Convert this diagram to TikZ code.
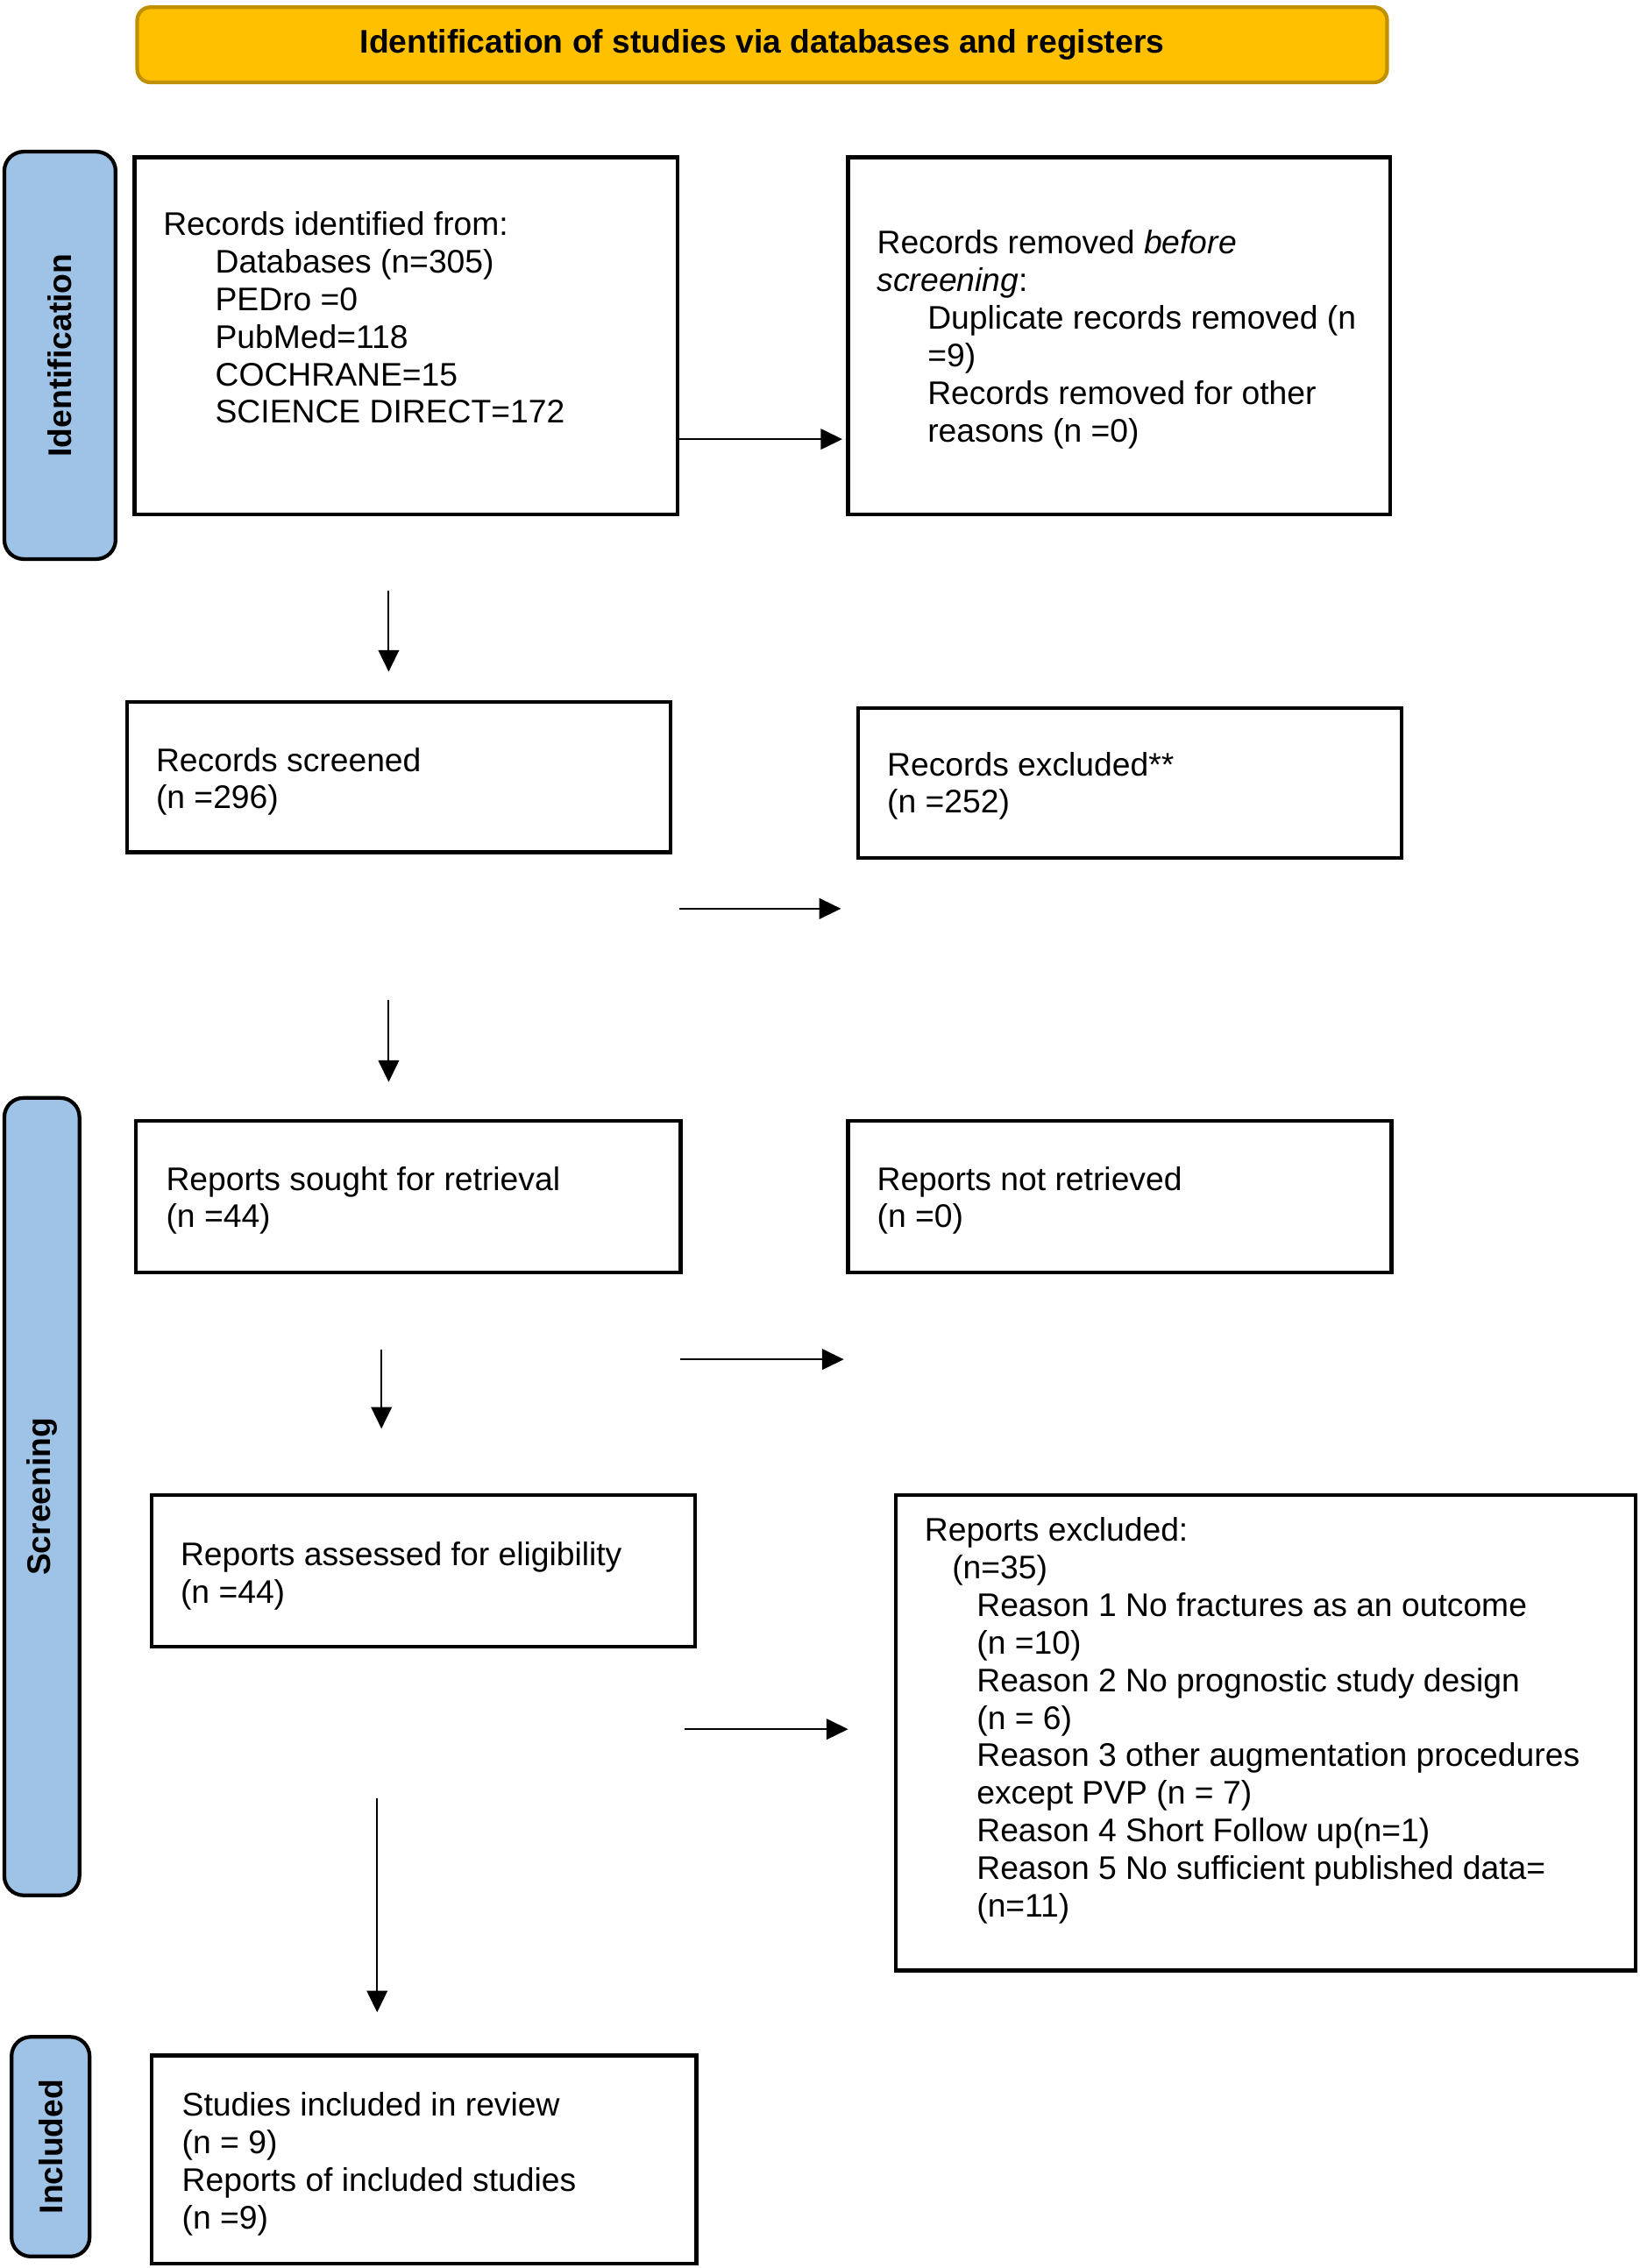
\documentclass[tikz,border=0pt]{standalone}
\usepackage{fontspec}
\setmainfont{Liberation Sans}
\usetikzlibrary{arrows.meta,calc}
\definecolor{titlefill}{HTML}{FFC000}
\definecolor{titledraw}{HTML}{BF9000}
\definecolor{sidefill}{HTML}{9FC3E6}
\begin{document}
\begin{tikzpicture}[x=0.03cm,y=-0.03cm,
  every node/.style={inner sep=0pt,outer sep=0pt},
  box/.style={draw=black,line width=2.3pt,fill=white},
  txt/.style={anchor=north west,align=left,font=\fontsize{19.3}{22.2}\selectfont},
  sidebar/.style={draw=black,line width=2.2pt,fill=sidefill,rounded corners=0.4cm},
  sidetxt/.style={rotate=90,font=\fontsize{19.3}{22.2}\selectfont\bfseries},
  arr/.style={line width=1pt,-{Triangle[length=0.45cm,width=0.43cm]}}]
\useasboundingbox (0,-2) rectangle (1135,1568);
\fill[white] (0,-2) rectangle (1135,1568);

% title
\node[draw=titledraw,line width=2.2pt,fill=titlefill,rounded corners=0.27cm,
  minimum width=865*0.03cm,minimum height=52*0.03cm,
  font=\fontsize{19.3}{22.2}\selectfont\bfseries] (title) at (527.5,29) {Identification of studies via databases and registers};

% sidebars
\node[sidebar,minimum width=77*0.03cm,minimum height=282*0.03cm] (sid) at (41.5,244) {};
\node[sidetxt] (sidt) at (sid.center) {Identification};
\node[sidebar,minimum width=52*0.03cm,minimum height=552*0.03cm] (sscr) at (29,1034) {};
\node[sidetxt] (sscrt) at (sscr.center) {Screening};
\node[sidebar,minimum width=54*0.03cm,minimum height=152*0.03cm] (sinc) at (35,1484) {};
\node[sidetxt] (sinct) at (sinc.center) {Included};

% boxes
\node[box,minimum width=376*0.03cm,minimum height=247*0.03cm] (b1) at (281,230.5) {};
\node[box,minimum width=375*0.03cm,minimum height=247*0.03cm] (b2) at (774.5,230.5) {};
\node[box,minimum width=376*0.03cm,minimum height=104*0.03cm] (b3) at (276,536) {};
\node[box,minimum width=376*0.03cm,minimum height=104*0.03cm] (b4) at (782,540) {};
\node[box,minimum width=377*0.03cm,minimum height=105*0.03cm] (b5) at (282.5,826.5) {};
\node[box,minimum width=376*0.03cm,minimum height=105*0.03cm] (b6) at (775,826.5) {};
\node[box,minimum width=376*0.03cm,minimum height=105*0.03cm] (b7) at (293,1085.5) {};
\node[box,minimum width=512*0.03cm,minimum height=329*0.03cm] (b8) at (876,1197.5) {};
\node[box,minimum width=377*0.03cm,minimum height=144*0.03cm] (b9) at (293.5,1493) {};

% texts
\node[txt] (t1) at (113,144.5) {Records identified from:\\
\hspace*{1.08cm}Databases (n=305)\\
\hspace*{1.08cm}PEDro =0\\
\hspace*{1.08cm}PubMed=118\\
\hspace*{1.08cm}COCHRANE=15\\
\hspace*{1.08cm}SCIENCE DIRECT=172};
\node[txt] (t2) at (607,157.5) {Records removed \textit{before}\\
\textit{screening}:\\
\hspace*{1.05cm}Duplicate records removed (n\\
\hspace*{1.05cm}=9)\\
\hspace*{1.05cm}Records removed for other\\
\hspace*{1.05cm}reasons (n =0)};
\node[txt] (t3) at (108,515.5) {Records screened\\(n =296)};
\node[txt] (t4) at (614,518.5) {Records excluded**\\(n =252)};
\node[txt] (t5) at (115,805.5) {Reports sought for retrieval\\(n =44)};
\node[txt] (t6) at (607,805.5) {Reports not retrieved\\(n =0)};
\node[txt] (t7) at (125,1065.5) {Reports assessed for eligibility\\(n =44)};
\node[txt] (t8) at (640,1048.5) {Reports excluded:\\
\hspace*{0.57cm}(n=35)\\
\hspace*{1.08cm}Reason 1 No fractures as an outcome\\
\hspace*{1.08cm}(n =10)\\
\hspace*{1.08cm}Reason 2 No prognostic study design\\
\hspace*{1.08cm}(n = 6)\\
\hspace*{1.08cm}Reason 3 other augmentation procedures\\
\hspace*{1.08cm}except PVP (n = 7)\\
\hspace*{1.08cm}Reason 4 Short Follow up(n=1)\\
\hspace*{1.08cm}Reason 5 No sufficient published data=\\
\hspace*{1.08cm}(n=11)};
\node[txt] (t9) at (126,1446.5) {Studies included in review\\(n = 9)\\Reports of included studies\\(n =9)};

% arrows
\coordinate (a1e) at (583,302);
\draw[arr] (b1.east |- a1e) -- (a1e);
\coordinate (d1s) at (269,407); \coordinate (d1e) at (269,463);
\draw[arr] (d1s) -- (d1e);
\coordinate (h2s) at (470,627); \coordinate (h2e) at (582,627);
\draw[arr] (h2s) -- (h2e);
\coordinate (d2s) at (269,690); \coordinate (d2e) at (269,747);
\draw[arr] (d2s) -- (d2e);
\coordinate (h3s) at (471,939); \coordinate (h3e) at (584,939);
\draw[arr] (h3s) -- (h3e);
\coordinate (d3s) at (264,932); \coordinate (d3e) at (264,987);
\draw[arr] (d3s) -- (d3e);
\coordinate (h4s) at (474,1195); \coordinate (h4e) at (587,1195);
\draw[arr] (h4s) -- (h4e);
\coordinate (d4s) at (261,1243); \coordinate (d4e) at (261,1391);
\draw[arr] (d4s) -- (d4e);
\end{tikzpicture}
\end{document}
